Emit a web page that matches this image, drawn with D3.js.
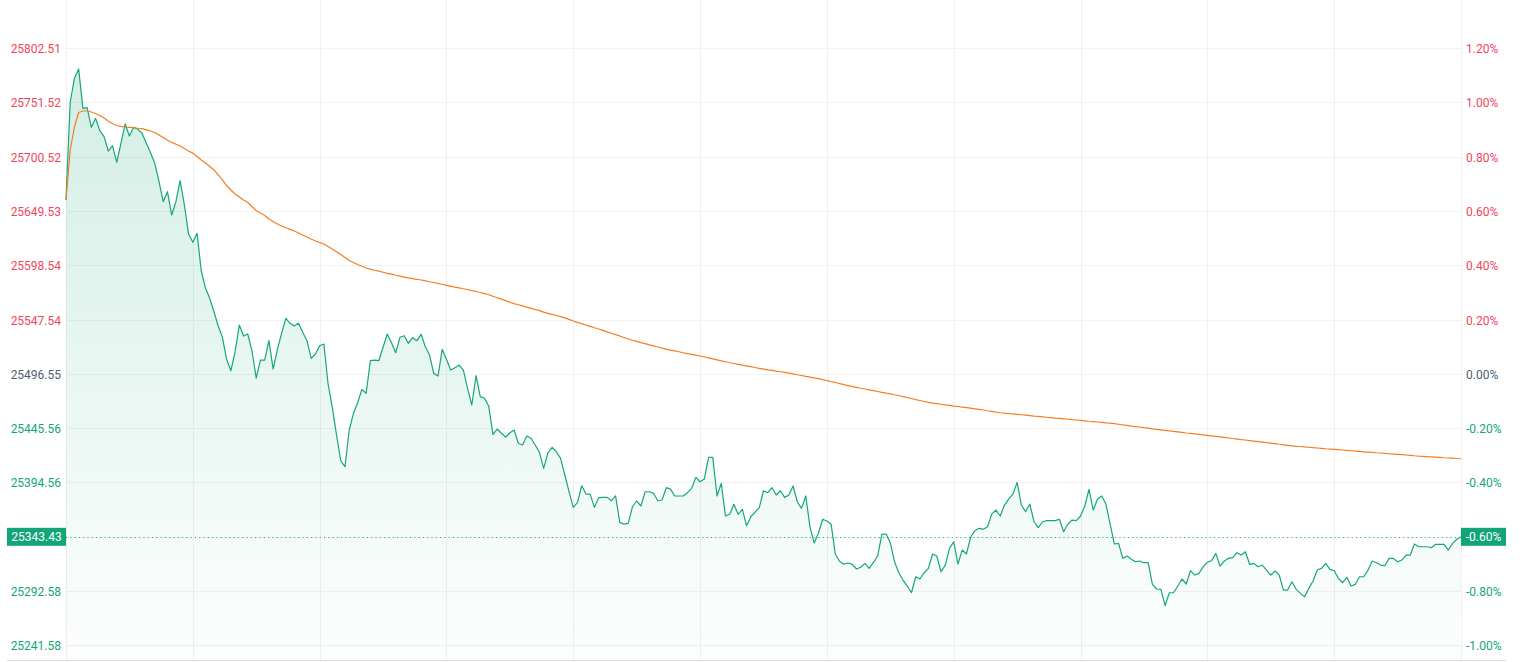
<!DOCTYPE html>
<html>
<head>
<meta charset="utf-8">
<script src="https://cdn.jsdelivr.net/npm/d3@7/dist/d3.min.js"></script>
<style>
  html, body { margin: 0; padding: 0; background: #ffffff; }
  svg { display: block; font-family: Roboto, "Noto Sans", sans-serif; }
</style>
</head>
<body>
<svg id="chart" width="1523" height="662"></svg>
<script>
// ---- data ----
const prevClose = 25496.55;
const lastPrice = 25343.43;
const pctTicks = [1.2, 1.0, 0.8, 0.6, 0.4, 0.2, 0.0, -0.2, -0.4, -0.6, -0.8, -1.0];
const gridMinutes = [0, 30, 60, 90, 120, 150, 180, 210, 240, 270, 300, 330];

const price = [
25659.9,25752.2,25774.2,25783.0,25746.0,25746.6,25728.2,25736.6,25725.0,25719.4,
25705.9,25710.9,25695.3,25713.2,25731.3,25720.0,25728.2,25726.3,25722.6,25713.2,
25704.3,25694.4,25677.1,25658.3,25667.7,25645.8,25658.3,25678.0,25655.2,25627.9,
25620.1,25628.6,25593.2,25576.9,25567.5,25554.9,25541.5,25530.9,25510.2,25499.5,
25517.3,25542.4,25532.1,25534.0,25518.0,25492.6,25509.5,25509.5,25527.7,25501.1,
25519.6,25534.6,25548.7,25544.0,25541.5,25544.0,25535.6,25527.7,25511.1,25515.2,
25523.0,25524.6,25487.0,25465.1,25439.1,25414.9,25409.3,25443.8,25459.5,25469.4,
25482.0,25478.3,25508.9,25509.5,25508.9,25521.5,25534.0,25525.8,25516.4,25530.9,
25532.4,25525.2,25530.5,25527.7,25533.7,25522.0,25514.2,25497.0,25494.5,25519.6,
25510.2,25500.1,25502.3,25504.8,25500.1,25483.0,25467.3,25494.8,25475.1,25473.6,
25466.3,25439.7,25444.7,25440.7,25437.2,25441.2,25443.8,25431.3,25429.7,25438.1,
25436.0,25429.7,25422.8,25407.8,25422.4,25427.5,25423.4,25417.2,25401.5,25385.8,
25371.1,25375.8,25391.4,25383.6,25383.6,25371.1,25380.2,25380.5,25380.5,25377.3,
25382.0,25357.0,25355.4,25356.1,25371.7,25377.1,25372.4,25385.8,25385.8,25384.3,
25377.3,25378.0,25389.6,25388.3,25381.8,25381.8,25381.8,25384.9,25389.0,25399.3,
25395.2,25397.7,25418.1,25418.1,25381.8,25393.7,25363.0,25364.6,25374.0,25364.6,
25369.3,25353.9,25362.3,25366.7,25370.8,25386.7,25384.9,25389.6,25382.7,25386.7,
25380.5,25382.7,25391.2,25376.4,25370.2,25381.8,25352.6,25337.6,25347.0,25359.9,
25358.3,25355.3,25327.0,25320.5,25317.7,25318.8,25317.6,25313.2,25314.8,25318.5,
25313.8,25319.5,25325.4,25345.8,25346.1,25337.9,25320.0,25309.7,25302.8,25297.2,
25290.9,25305.9,25303.8,25309.7,25313.8,25327.3,25325.4,25310.6,25316.9,25332.6,
25338.8,25317.9,25331.0,25327.3,25343.0,25349.2,25351.4,25350.5,25352.9,25364.8,
25368.6,25363.0,25373.3,25378.9,25383.6,25394.6,25373.3,25367.0,25374.2,25357.6,
25352.0,25357.6,25358.6,25358.6,25358.6,25359.9,25348.2,25355.4,25359.2,25358.6,
25363.0,25372.4,25388.1,25368.6,25378.7,25381.8,25374.2,25355.4,25336.7,25337.3,
25323.2,25325.4,25322.3,25320.0,25320.7,25319.1,25319.1,25298.8,25294.4,25294.1,
25278.7,25290.9,25290.9,25297.2,25303.8,25299.1,25311.6,25307.5,25309.1,25315.3,
25319.5,25321.0,25327.9,25316.0,25320.7,25323.2,25323.8,25328.5,25326.3,25329.4,
25317.6,25318.5,25315.3,25316.9,25312.2,25307.5,25311.3,25307.5,25293.4,25293.4,
25301.2,25294.1,25290.3,25287.1,25295.0,25301.9,25312.2,25313.8,25318.5,25312.9,
25311.6,25304.4,25300.3,25305.4,25297.2,25298.8,25305.9,25305.9,25312.2,25320.7,
25319.1,25316.9,25316.3,25323.2,25323.2,25320.0,25321.6,25326.3,25326.3,25336.7,
25334.1,25334.1,25334.1,25333.2,25336.4,25336.4,25336.4,25331.0,25337.3,25341.1,
25343.43
];

const avgPrice = [
25659.9,25706.9,25728.5,25742.1,25743.5,25743.5,25742.6,25741.2,25739.3,25736.9,
25734.1,25731.8,25729.9,25729.0,25728.5,25728.2,25727.8,25727.3,25726.9,25725.8,
25724.7,25723.3,25721.0,25718.6,25716.1,25714.2,25712.3,25710.6,25708.3,25705.9,
25703.9,25700.7,25697.5,25694.6,25691.4,25688.1,25683.4,25678.7,25673.5,25669.3,
25665.5,25662.7,25659.9,25657.5,25653.8,25650.0,25647.7,25645.3,25642.0,25639.7,
25637.3,25635.4,25633.8,25632.3,25630.8,25628.9,25627.0,25625.1,25623.2,25621.4,
25620.0,25618.5,25616.2,25613.8,25611.3,25608.7,25605.8,25603.0,25601.2,25599.3,
25597.6,25596.0,25594.9,25593.9,25593.0,25592.0,25591.0,25590.2,25589.2,25588.4,
25587.5,25586.7,25586.0,25585.4,25584.7,25583.9,25583.1,25582.4,25581.5,25580.7,
25579.7,25578.9,25578.1,25577.4,25576.5,25575.8,25574.8,25573.9,25573.0,25572.0,
25570.9,25569.5,25568.1,25566.7,25565.3,25563.8,25562.6,25561.5,25560.4,25559.2,
25558.1,25557.0,25555.9,25554.6,25553.4,25552.5,25551.4,25550.3,25549.1,25547.7,
25546.2,25544.9,25543.7,25542.4,25541.2,25539.9,25538.7,25537.4,25536.0,25534.7,
25533.4,25532.1,25530.7,25529.3,25528.1,25527.0,25525.9,25524.9,25523.8,25522.8,
25521.8,25520.7,25519.8,25518.9,25518.1,25517.3,25516.4,25515.6,25514.8,25514.1,
25513.3,25512.4,25511.5,25510.6,25509.7,25508.8,25507.9,25507.0,25506.3,25505.5,
25504.8,25504.0,25503.3,25502.5,25501.7,25501.0,25500.3,25499.8,25499.1,25498.5,
25497.9,25497.2,25496.5,25495.7,25495.0,25494.2,25493.5,25492.7,25492.0,25491.1,
25490.3,25489.3,25488.4,25487.4,25486.4,25485.5,25484.5,25483.8,25483.0,25482.3,
25481.5,25480.8,25480.0,25479.2,25478.4,25477.7,25476.9,25476.2,25475.2,25474.3,
25473.4,25472.4,25471.5,25470.6,25469.8,25469.1,25468.6,25468.0,25467.4,25466.9,
25466.3,25465.9,25465.3,25464.8,25464.3,25463.7,25463.1,25462.6,25461.9,25461.3,
25460.6,25460.0,25459.7,25459.3,25458.9,25458.5,25458.1,25457.7,25457.3,25456.9,
25456.6,25456.2,25455.8,25455.4,25455.0,25454.7,25454.3,25453.9,25453.5,25453.2,
25452.8,25452.4,25452.0,25451.7,25451.3,25450.9,25450.5,25450.2,25449.7,25449.2,
25448.6,25448.1,25447.5,25447.0,25446.6,25446.0,25445.5,25444.9,25444.4,25444.0,
25443.4,25442.9,25442.5,25442.0,25441.5,25441.0,25440.6,25440.1,25439.6,25439.2,
25438.7,25438.2,25437.8,25437.3,25436.8,25436.3,25435.8,25435.3,25434.8,25434.4,
25433.9,25433.4,25432.9,25432.4,25431.9,25431.5,25431.0,25430.4,25429.9,25429.4,
25428.9,25428.5,25428.3,25427.9,25427.6,25427.2,25426.9,25426.6,25426.2,25425.9,
25425.6,25425.3,25425.0,25424.6,25424.3,25424.0,25423.7,25423.3,25423.0,25422.7,
25422.4,25422.2,25421.8,25421.5,25421.2,25420.9,25420.6,25420.3,25420.0,25419.6,
25419.3,25419.1,25418.8,25418.6,25418.3,25418.0,25417.7,25417.5,25417.3,25417.0,
25416.8
];

// ---- chart ----
(function () {
const PL = 66, PR = 1461, PT = 0, PB = 660;
const UP = "#f2455c", DOWN = "#12a57a", FLAT = "#4e5d72";
const LINE = "#14a77a", AVG = "#f57c22";

const svg = d3.select("#chart");
const x = d3.scaleLinear().domain([0, 330]).range([PL, PR]);
const y = d3.scaleLinear().domain([25227.7, 25847.8]).range([PB, PT]);

const tickPrices = pctTicks.map(p => prevClose * (1 + p / 100));

const defs = svg.append("defs");
const grad = defs.append("linearGradient").attr("id", "areaGrad")
  .attr("gradientUnits", "userSpaceOnUse").attr("x1", 0).attr("y1", PT).attr("x2", 0).attr("y2", PB);
grad.append("stop").attr("offset", "0%").attr("stop-color", LINE).attr("stop-opacity", 0.21);
grad.append("stop").attr("offset", "100%").attr("stop-color", LINE).attr("stop-opacity", 0.01);

const grid = svg.append("g");
grid.selectAll("line.h").data(tickPrices).enter().append("line")
  .attr("x1", PL).attr("x2", PR)
  .attr("y1", d => Math.round(y(d)) + 0.5).attr("y2", d => Math.round(y(d)) + 0.5)
  .attr("stroke", "#f2f2f2").attr("stroke-width", 1);
grid.selectAll("line.v").data(gridMinutes).enter().append("line")
  .attr("y1", PT).attr("y2", PB)
  .attr("x1", d => Math.round(x(d)) + 0.5).attr("x2", d => Math.round(x(d)) + 0.5)
  .attr("stroke", "#f0f0f0").attr("stroke-width", 1);

svg.append("line").attr("x1", 7).attr("x2", 1506).attr("y1", PB + 0.5).attr("y2", PB + 0.5)
  .attr("stroke", "#dcdcdc").attr("stroke-width", 1);

const idx = d3.range(price.length);

svg.append("path").datum(idx)
  .attr("fill", "url(#areaGrad)")
  .attr("d", d3.area().x(i => x(i)).y0(PB).y1(i => y(price[i])));

svg.append("line").attr("x1", PL).attr("x2", PR)
  .attr("y1", Math.round(y(lastPrice)) + 0.5).attr("y2", Math.round(y(lastPrice)) + 0.5)
  .attr("stroke", DOWN).attr("stroke-width", 1).attr("stroke-dasharray", "1,3.3");

svg.append("path").datum(idx)
  .attr("fill", "none").attr("stroke", LINE).attr("stroke-width", 1.2)
  .attr("stroke-linejoin", "round")
  .attr("d", d3.line().x(i => x(i)).y(i => y(price[i])));

svg.append("path").datum(idx)
  .attr("fill", "none").attr("stroke", AVG).attr("stroke-width", 1.2)
  .attr("stroke-linejoin", "round")
  .attr("d", d3.line().x(i => x(i)).y(i => y(avgPrice[i])));

const colorFor = p => p > 0 ? UP : (p < 0 ? DOWN : FLAT);
const lastPct = (lastPrice / prevClose - 1) * 100;
const hidden = p => Math.abs(p - lastPct) < 0.05;

svg.append("g").selectAll("text").data(pctTicks.filter(p => !hidden(p))).enter().append("text")
  .attr("x", 61).attr("y", p => y(prevClose * (1 + p / 100)) + 5)
  .attr("text-anchor", "end").attr("font-size", 12)
  .attr("fill", colorFor)
  .text(p => (prevClose * (1 + p / 100)).toFixed(2));

svg.append("g").selectAll("text").data(pctTicks.filter(p => !hidden(p))).enter().append("text")
  .attr("x", 1466).attr("y", p => y(prevClose * (1 + p / 100)) + 5)
  .attr("text-anchor", "start").attr("font-size", 12)
  .attr("fill", colorFor)
  .text(p => p.toFixed(2) + "%");

const ly = y(lastPrice);
svg.append("rect").attr("x", 7).attr("y", ly - 9).attr("width", PL - 7).attr("height", 18).attr("fill", DOWN);
svg.append("text").attr("x", (7 + PL) / 2).attr("y", ly + 4.5).attr("text-anchor", "middle")
  .attr("font-size", 12).attr("fill", "#fff").text(lastPrice.toFixed(2));
svg.append("rect").attr("x", PR).attr("y", ly - 9).attr("width", 45).attr("height", 18).attr("fill", DOWN);
svg.append("text").attr("x", PR + 22.5).attr("y", ly + 4.5).attr("text-anchor", "middle")
  .attr("font-size", 12).attr("fill", "#fff").text(lastPct.toFixed(2) + "%");
})();
</script>
</body>
</html>
